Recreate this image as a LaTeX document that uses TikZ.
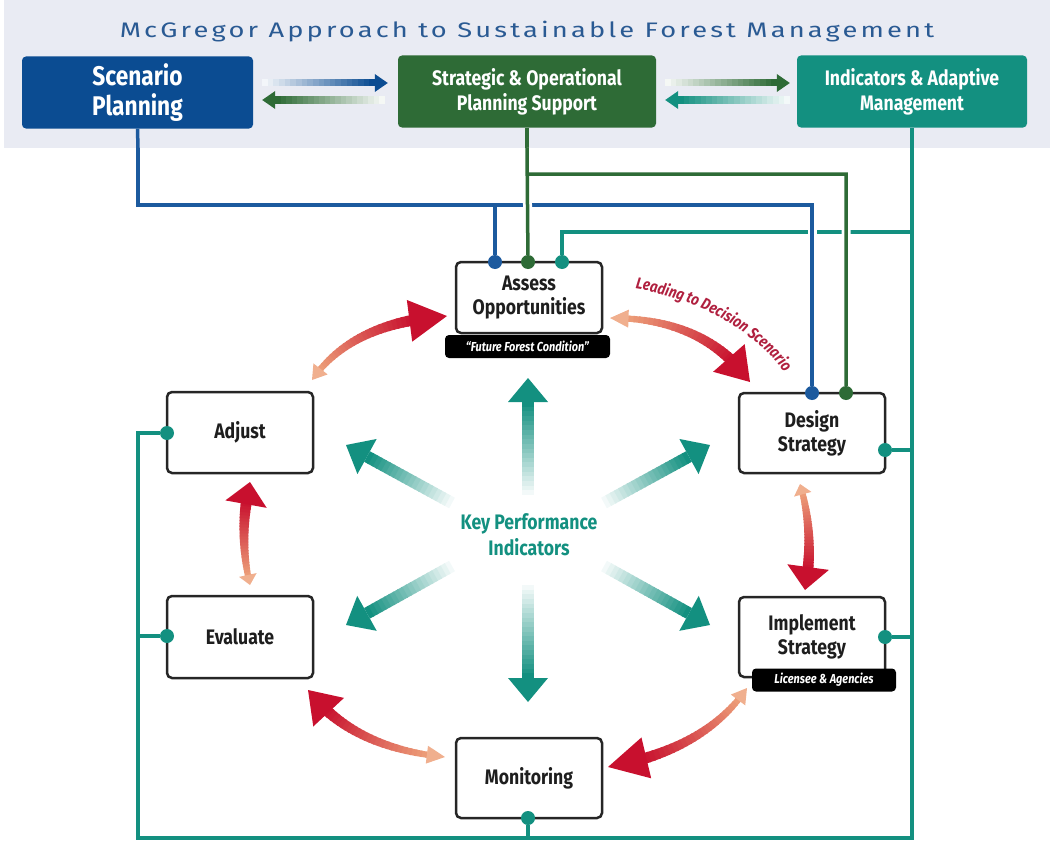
\documentclass[tikz,border=0pt]{standalone}
\usepackage{fontspec}
\setmainfont{Fira Sans}
\newfontfamily\boxfont[FakeStretch=0.84]{Fira Sans}
\newfontfamily\titlefont[FakeStretch=1.3,LetterSpace=15]{Fira Sans}
\usetikzlibrary{calc,decorations.text}

\definecolor{planblue}{HTML}{0B4C92}
\definecolor{lineblue}{HTML}{1C5A9E}
\definecolor{supgreen}{HTML}{2E6B36}
\definecolor{indteal}{HTML}{139080}
\definecolor{bandgray}{HTML}{E9EBF3}
\definecolor{titleblue}{HTML}{2A5A93}
\definecolor{cycred}{HTML}{C8102E}
\definecolor{cycorange}{HTML}{EDA17A}
\definecolor{lblred}{HTML}{B0203F}
\definecolor{boxtext}{HTML}{1E1E1E}

% straight arrow fading in from its tail: tail, tip, colour, shaft, head half-width, head length
\newcommand\fadearrow[6]{%
  \coordinate (fa-s) at (#1);
  \coordinate (fa-e) at (#2);
  \coordinate (fa-b) at ($(fa-e)!#6!(fa-s)$);
  \foreach \k in {0,...,19}{
    \pgfmathsetmacro\ta{\k/20}
    \pgfmathsetmacro\tb{min((\k+1.3)/20,1)}
    \pgfmathtruncatemacro\mix{5*\k+5}
    \draw[line width=#4, draw=#3!\mix!white] ($(fa-s)!\ta!(fa-b)$) -- ($(fa-s)!\tb!(fa-b)$);
  }
  \fill[#3] (fa-e) -- ($(fa-b)!#5!90:(fa-e)$) -- ($(fa-b)!#5!-90:(fa-e)$) -- cycle;
}

% curved cycle arrow, orange tail to red head: tail, control, tip
\newcommand\cyclearrow[3]{%
  \coordinate (ca-s) at (#1);
  \coordinate (ca-c) at (#2);
  \coordinate (ca-e) at (#3);
  \foreach \k in {0,...,24}{
    \pgfmathsetmacro\ta{0.07+0.73*\k/25}
    \pgfmathsetmacro\tb{0.07+0.73*(\k+1.3)/25}
    \pgfmathtruncatemacro\mix{4*\k}
    \pgfmathsetmacro\lw{6+5*\k/25}
    \draw[line width=\lw pt, draw=cycred!\mix!cycorange]
      ($($(ca-s)!\ta!(ca-c)$)!\ta!($(ca-c)!\ta!(ca-e)$)$) -- ($($(ca-s)!\tb!(ca-c)$)!\tb!($(ca-c)!\tb!(ca-e)$)$);
  }
  \coordinate (ca-h) at ($($(ca-s)!0.79!(ca-c)$)!0.79!($(ca-c)!0.79!(ca-e)$)$);
  \coordinate (ca-t) at ($($(ca-s)!0.1!(ca-c)$)!0.1!($(ca-c)!0.1!(ca-e)$)$);
  \fill[cycred] (ca-e) -- ($(ca-h)!21pt!90:(ca-e)$) -- ($(ca-h)!21pt!-90:(ca-e)$) -- cycle;
  \fill[cycorange!85!white] (ca-s) -- ($(ca-t)!9pt!90:(ca-s)$) -- ($(ca-t)!9pt!-90:(ca-s)$) -- cycle;
}

\begin{document}
\begin{tikzpicture}[x=1pt,y=-1pt,
    headbox/.style={rounded corners=4pt, text=white, align=center, minimum height=72pt,
      font=\boxfont\bfseries\fontsize{21}{25}\selectfont},
    stagebox/.style={draw=black!85, line width=2.5pt, rounded corners=5pt, fill=white,
      minimum width=146pt, align=center, text=boxtext, font=\boxfont\bfseries\fontsize{21}{24}\selectfont},
    tagbox/.style={fill=black, rounded corners=4pt, text=white, minimum height=23pt, inner xsep=6pt,
      font=\boxfont\bfseries\itshape\fontsize{13}{13}\selectfont},
    pin/.style={circle, fill=#1, inner sep=0pt, minimum size=14pt},
    wire/.style={line width=3.5pt},
    bridge/.style={wire, preaction={draw=white, line width=9pt}}]
  \useasboundingbox (0,0) rectangle (1050,851);
  \fill[bandgray] (4,0) rectangle (1050,148);
  \node[text=titleblue, font=\titlefont\fontsize{21}{21}\selectfont] (title) at (527,32)
    {McGregor Approach to Sustainable Forest Management};

  % header boxes
  \node[headbox, fill=planblue, minimum width=231pt, font=\boxfont\bfseries\fontsize{27}{30}\selectfont]
    (scen) at (137.5,92.5) {Scenario\\Planning};
  \node[headbox, fill=supgreen, minimum width=258pt] (strat) at (527,91.5) {Strategic \& Operational\\Planning Support};
  \node[headbox, fill=indteal, minimum width=230pt] (ind) at (912,91.5) {Indicators \& Adaptive\\Management};
  \fadearrow{$(scen.east)+(9,-9.5)$}{$(strat.west)+(-10,-8.5)$}{planblue}{7pt}{9pt}{13pt}
  \fadearrow{$(strat.west)+(-13,8.5)$}{$(scen.east)+(9,7.5)$}{supgreen}{7pt}{9pt}{13pt}
  \fadearrow{$(strat.east)+(9,-8.5)$}{$(ind.west)+(-7,-8.5)$}{supgreen}{7pt}{9pt}{13pt}
  \fadearrow{$(ind.west)+(-7,8.5)$}{$(strat.east)+(9,8.5)$}{indteal}{7pt}{9pt}{13pt}

  % cycle stages
  \node[stagebox, minimum height=71pt] (assess) at (529,297.5) {Assess\\Opportunities};
  \node[stagebox, minimum height=80pt] (design) at (812,433) {Design\\Strategy};
  \node[stagebox, minimum height=80pt] (impl) at (812,637) {Implement\\Strategy};
  \node[stagebox, minimum height=80pt] (mon) at (529,778) {Monitoring};
  \node[stagebox, minimum height=82pt] (eval) at (240,637) {Evaluate};
  \node[stagebox, minimum height=81pt] (adjust) at (240,432.5) {Adjust};
  \node[tagbox, minimum width=165pt] (forest) at (527.5,346.5) {“Future Forest Condition”};
  \node[tagbox, minimum width=144pt] (licensee) at (824,680) {Licensee \& Agencies};

  % connection dots
  \node[pin=lineblue] (assessB) at (495,262) {};
  \node[pin=supgreen] (assessG) at (528,262) {};
  \node[pin=indteal] (assessT) at (562,262) {};
  \node[pin=lineblue] (designB) at (812,393) {};
  \node[pin=supgreen] (designG) at (846,393) {};
  \node[pin=indteal] (designT) at (885,450) {};
  \node[pin=indteal] (implT) at (885,637) {};
  \node[pin=indteal] (monT) at (528,818) {};
  \node[pin=indteal] (evalT) at (167,636) {};
  \node[pin=indteal] (adjustT) at (167,433) {};

  % feedback lines
  \coordinate (scenfoot) at (138,148);
  \coordinate (stratfoot) at (527,148);
  \coordinate (indfoot) at (912,148);
  \coordinate (tealBR) at (912,838);
  \coordinate (tealBL) at (138,838);
  \draw[wire, draw=indteal] (ind.south) -- (tealBR) -- (tealBL) |- (adjustT);
  \draw[wire, draw=indteal] (tealBL |- evalT) -- (evalT);
  \draw[wire, draw=indteal] (tealBL -| monT) -- (monT);
  \draw[wire, draw=indteal] (indfoot |- designT) -- (designT);
  \draw[wire, draw=indteal] (indfoot |- implT) -- (implT);
  \draw[wire, draw=indteal] (912,232) -| (assessT);
  \draw[wire, draw=lineblue] (scen.south) -- (scenfoot);
  \draw[bridge, draw=lineblue] (scenfoot) |- (812,205) -- (designB) (495,205) -- (assessB);
  \draw[wire, draw=supgreen] (strat.south) -- (stratfoot);
  \draw[bridge, draw=supgreen] (stratfoot) -- (assessG) (527,174) -| (designG);

  % key performance indicators
  \node[text=indteal, align=center, font=\boxfont\bfseries\fontsize{21}{26}\selectfont] (kpi) at (529,535)
    {Key Performance\\Indicators};
  \fadearrow{528,495}{528,378}{indteal}{12pt}{20pt}{24pt}
  \fadearrow{528,585}{528,702}{indteal}{12pt}{20pt}{24pt}
  \fadearrow{452,503}{346,445}{indteal}{12pt}{20pt}{24pt}
  \fadearrow{604,503}{710,445}{indteal}{12pt}{20pt}{24pt}
  \fadearrow{452,566}{346,625}{indteal}{12pt}{20pt}{24pt}
  \fadearrow{604,566}{710,625}{indteal}{12pt}{20pt}{24pt}

  % cycle arrows
  \cyclearrow{312,380}{352,322}{447,316}
  \cyclearrow{610,318}{705,318}{750,382}
  \cyclearrow{800,484}{815,535}{805,590}
  \cyclearrow{747,688}{705,750}{608,767}
  \cyclearrow{445,757}{352,748}{308,690}
  \cyclearrow{250,585}{238,535}{250,482}
  \path[decorate, decoration={text along path, text color=lblred, text align=center,
      text={|\boxfont\bfseries\itshape\fontsize{16}{16}\selectfont|Leading to Decision Scenario}}]
    (612,286) .. controls (690,292) and (765,332) .. (797,392);
\end{tikzpicture}
\end{document}
